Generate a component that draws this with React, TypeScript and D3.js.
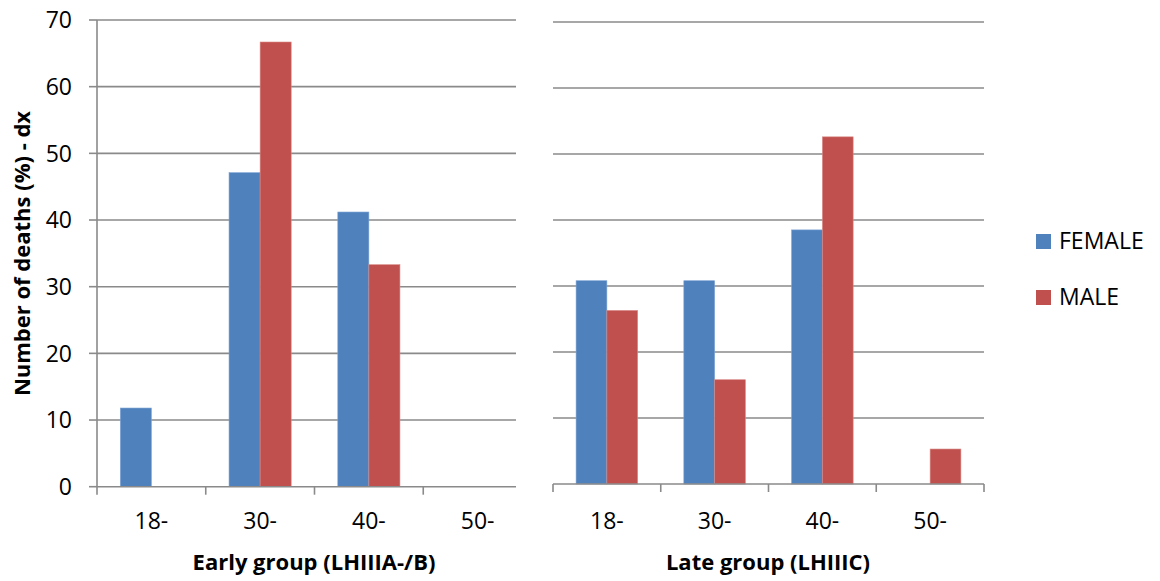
import React from "react";
import * as d3 from "d3";

const categories = ["18-", "30-", "40-", "50-"];
const series = ["FEMALE", "MALE"];
const earlyFemale = [11.8, 47.1, 41.2, 0];
const earlyMale = [0, 66.7, 33.3, 0];
const lateFemale = [30.8, 30.8, 38.5, 0];
const lateMale = [26.3, 15.8, 52.6, 5.3];
const yTicks = [0, 10, 20, 30, 40, 50, 60, 70];
const colors = ["#4F81BD", "#C0504D"];
const yTitle = "Number of deaths (%) - dx";
const earlyTitle = "Early group (LHIIIA-/B)";
const lateTitle = "Late group (LHIIIC)";

const FONT = "'Open Sans', Lato, sans-serif";
const GRID = "#8a8a8a";

type PanelProps = {
  x0: number; x1: number; clipX: number; yBottom: number; yTop: number;
  female: number[]; male: number[]; title: string; titleX: number; showYAxis: boolean; id: string;
};

function Panel({ x0, x1, clipX, yBottom, yTop, female, male, title, titleX, showYAxis, id }: PanelProps) {
  const x = d3.scaleBand<string>().domain(categories).range([x0, x1]).padding(0);
  const inner = d3.scaleBand<string>().domain(series).range([0, x.bandwidth()]).paddingInner(0).paddingOuter(0.75);
  const y = d3.scaleLinear().domain([0, 70]).range([yBottom, yTop]);
  const vals = [female, male];
  const tickXs = categories.map((c) => x(c)!).concat([x1]);
  return (
    <g>
      <defs>
        <clipPath id={id}>
          <rect x={0} y={0} width={clipX} height={581} />
        </clipPath>
      </defs>
      <g clipPath={`url(#${id})`}>
        {yTicks.filter((t) => t > 0).map((t) => (
          <line key={t} x1={x0} x2={x1} y1={y(t)} y2={y(t)} stroke={GRID} strokeWidth={1.6} />
        ))}
        {vals.map((arr, si) =>
          categories.map((c, ci) =>
            arr[ci] > 0 ? (
              <rect
                key={`${si}-${ci}`}
                x={x(c)! + inner(series[si])!}
                y={y(arr[ci])}
                width={inner.bandwidth()}
                height={y(0) - y(arr[ci])}
                fill={colors[si]}
                stroke={si === 0 ? "#7ea3d4" : "#d98a88"}
                strokeWidth={0.6}
              />
            ) : null
          )
        )}
        <line x1={x0} x2={x1} y1={y(0)} y2={y(0)} stroke={GRID} strokeWidth={1.6} />
        {tickXs.map((tx, i) => (
          <line key={i} x1={tx} x2={tx} y1={y(0)} y2={y(0) + 8} stroke={GRID} strokeWidth={1.6} />
        ))}
        {showYAxis && (
          <g>
            <line x1={x0} x2={x0} y1={y(70)} y2={y(0)} stroke={GRID} strokeWidth={1.6} />
            {yTicks.map((t) => (
              <line key={t} x1={x0 - 8} x2={x0} y1={y(t)} y2={y(t)} stroke={GRID} strokeWidth={1.6} />
            ))}
          </g>
        )}
        {categories.map((c) => (
          <text key={c} x={x(c)! + x.bandwidth() / 2} y={529} textAnchor="middle" fontSize={23} fontFamily={FONT} fill="#000">
            {c}
          </text>
        ))}
      </g>
      {showYAxis &&
        yTicks.map((t) => (
          <text key={t} x={72} y={y(t)} dy="0.36em" textAnchor="end" fontSize={23} fontFamily={FONT} fill="#000">
            {t}
          </text>
        ))}
      <text x={titleX} y={570} textAnchor="middle" fontSize={22} fontWeight="bold" fontFamily={FONT} fill="#000">
        {title}
      </text>
    </g>
  );
}

export default function App() {
  return (
    <svg width={1160} height={581} style={{ position: "absolute", left: 0, top: 0, background: "#fff" }}>
      <rect x={0} y={0} width={1160} height={581} fill="#fff" />
      <Panel x0={97} x1={532} clipX={516} yBottom={486.7} yTop={20} female={earlyFemale} male={earlyMale} title={earlyTitle} titleX={314} showYAxis={true} id="clipL" />
      <Panel x0={553} x1={984} clipX={1160} yBottom={484} yTop={22} female={lateFemale} male={lateMale} title={lateTitle} titleX={768} showYAxis={false} id="clipR" />
      <text transform="translate(30,253.5) rotate(-90)" textAnchor="middle" fontSize={22} fontWeight="bold" fontFamily={FONT} fill="#000">
        {yTitle}
      </text>
      {series.map((s, i) => (
        <g key={s} transform={`translate(1036,${234 + i * 56})`}>
          <rect x={0} y={0} width={15} height={15} fill={colors[i]} />
          <text x={23} y={15} fontSize={23} fontFamily={FONT} fill="#000">{s}</text>
        </g>
      ))}
    </svg>
  );
}
